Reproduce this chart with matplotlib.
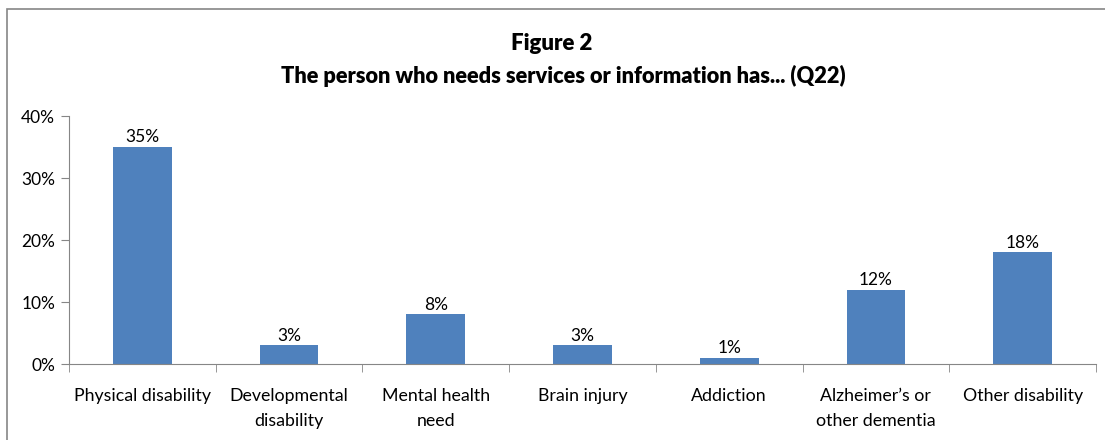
import numpy as np
import matplotlib.pyplot as plt
from matplotlib.patches import Rectangle

categories = ["Physical disability", "Developmental\ndisability", "Mental health\nneed",
              "Brain injury", "Addiction", "Alzheimer\u2019s or\nother dementia", "Other disability"]
values = [35, 3, 8, 3, 1, 12, 18]
bar_labels = ["35%", "3%", "8%", "3%", "1%", "12%", "18%"]
yticks = [0, 10, 20, 30, 40]

plt.rcParams['font.family'] = ['Lato', 'DejaVu Sans']

fig = plt.figure(figsize=(11.05, 4.4), dpi=100)
ax = fig.add_axes([69/1105, 1 - 364/440, (1096 - 69)/1105, (364 - 116)/440])

x = np.arange(len(categories))
ax.bar(x, values, width=0.4, color="#4f81bd")
for xi, v, lab in zip(x, values, bar_labels):
    ax.text(xi, v + 0.3, lab, ha="center", va="bottom", fontsize=12.5)

ax.set_xlim(-0.5, len(categories) - 0.5)
ax.set_ylim(0, 40)
ax.set_yticks(yticks)
ax.set_yticklabels([f"{t}%" for t in yticks], fontsize=12.5)
ax.set_xticks(x)
ax.set_xticklabels(categories, fontsize=12.8, linespacing=1.75)
ax.tick_params(axis="x", length=0, pad=17)
ax.set_xticks(np.arange(-0.5, len(categories)), minor=True)
ax.tick_params(axis="x", which="minor", length=6, color="#868686", direction="out")
ax.tick_params(axis="y", length=6, color="#868686", direction="out", pad=4)

for s in ["top", "right"]:
    ax.spines[s].set_visible(False)
for s in ["left", "bottom"]:
    ax.spines[s].set_color("#868686")

fig.text(552/1105, 1 - 44/440, "Figure 2", ha="center", va="center",
         fontsize=16, fontweight="heavy")
fig.text(563/1105, 1 - 76/440, "The person who needs services or information has... (Q22)",
         ha="center", va="center", fontsize=15.7, fontweight="heavy")

fig.patches.append(Rectangle((7/1105, -0.02), 1.05, 1 - 9/440 + 0.02,
                             transform=fig.transFigure, fill=False,
                             edgecolor="#868686", linewidth=1.2))

fig.savefig("out.png", dpi=100)
